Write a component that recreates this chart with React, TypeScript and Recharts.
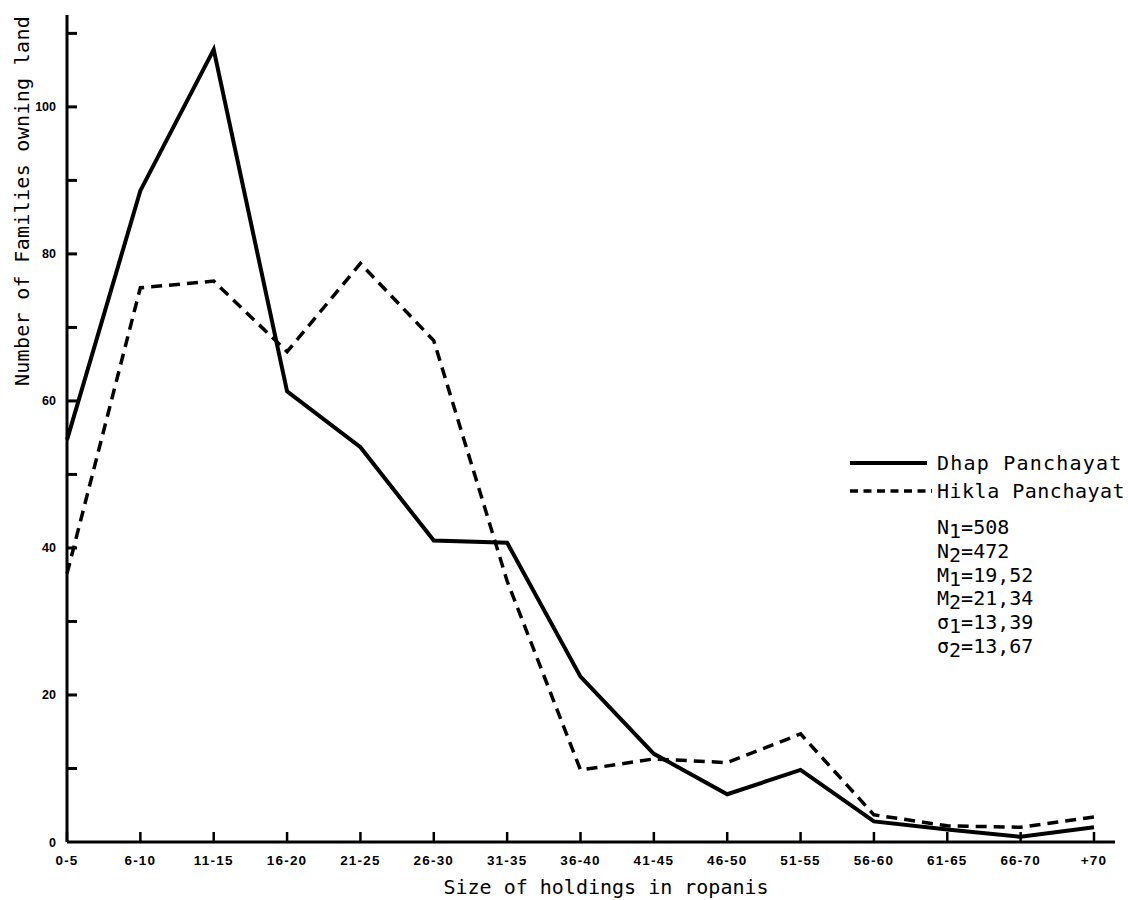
import { LineChart, Line, XAxis, YAxis } from "recharts";

// size classes of holdings (ropanis)
const categories = [
  "0-5", "6-10", "11-15", "16-20", "21-25", "26-30", "31-35", "36-40",
  "41-45", "46-50", "51-55", "56-60", "61-65", "66-70", "+70",
];

// number of families owning land
const dhap = [54.7, 88.6, 107.8, 61.3, 53.7, 41, 40.7, 22.5, 12, 6.5, 9.8, 2.8, 1.7, 0.7, 2];
const hikla = [36.5, 75.4, 76.3, 66.7, 78.7, 68.2, 35.5, 9.8, 11.3, 10.8, 14.7, 3.7, 2.2, 2, 3.4];

const yTicks = [0, 10, 20, 30, 40, 50, 60, 70, 80, 90, 100, 110];
const yLabelled = [0, 20, 40, 60, 80, 100];

const seriesNames = ["Dhap Panchayat", "Hikla Panchayat"];

const stats = [
  { sym: "N", sub: "1", val: "508" },
  { sym: "N", sub: "2", val: "472" },
  { sym: "M", sub: "1", val: "19,52" },
  { sym: "M", sub: "2", val: "21,34" },
  { sym: "σ", sub: "1", val: "13,39" },
  { sym: "σ", sub: "2", val: "13,67" },
];

const data = categories.map((c, i) => ({ size: c, dhap: dhap[i], hikla: hikla[i] }));

const MONO = "'DejaVu Sans Mono', monospace";
const TICK_FONT = "'Liberation Sans', Arial, sans-serif";

const XTick = ({ x, y, payload }: any) => (
  <g>
    <line x1={x} x2={x} y1={y} y2={y - 10} stroke="#000" strokeWidth={2.5} />
    <text
      x={x}
      y={y + 23}
      textAnchor="middle"
      fontFamily={TICK_FONT}
      fontWeight={700}
      fontSize={13.5}
      letterSpacing={1.2}
      fill="#000"
    >
      {payload.value}
    </text>
  </g>
);

const YTick = ({ x, y, payload }: any) => (
  <g>
    {payload.value !== 0 && (
      <line x1={x} x2={x + 10} y1={y} y2={y} stroke="#000" strokeWidth={3} />
    )}
    {yLabelled.includes(payload.value) && (
      <text
        x={x - 11}
        y={y + 4.5}
        textAnchor="end"
        fontFamily={TICK_FONT}
        fontWeight={700}
        fontSize={12.5}
        fill="#000"
      >
        {payload.value}
      </text>
    )}
  </g>
);

export default function App() {
  return (
    <div style={{ position: "absolute", left: 0, top: 0, width: 1128, height: 900, background: "#fff" }}>
      <LineChart
        width={1128}
        height={900}
        data={data}
        margin={{ top: 15, right: 13, bottom: 0, left: 0 }}
      >
        <XAxis
          dataKey="size"
          interval={0}
          height={58}
          padding={{ left: 0, right: 21 }}
          tickSize={0}
          tickMargin={0}
          tick={<XTick />}
          axisLine={{ stroke: "#000", strokeWidth: 3 }}
          label={() => (
            <text
              x={606}
              y={894}
              textAnchor="middle"
              fontFamily={MONO}
              fontSize={20}
              fill="#000"
            >
              Size of holdings in ropanis
            </text>
          )}
        />
        <YAxis
          width={67}
          domain={[0, 112.5]}
          ticks={yTicks}
          interval={0}
          tickSize={0}
          tickMargin={0}
          tick={<YTick />}
          axisLine={{ stroke: "#000", strokeWidth: 3 }}
          label={() => (
            <text
              x={29}
              y={201}
              transform="rotate(-90 29 201)"
              textAnchor="middle"
              fontFamily={MONO}
              fontSize={20}
              letterSpacing={0.3}
              fill="#000"
            >
              Number of Families owning land
            </text>
          )}
        />
        <Line
          type="linear"
          dataKey="dhap"
          name={seriesNames[0]}
          stroke="#000"
          strokeWidth={4}
          dot={false}
          isAnimationActive={false}
        />
        <Line
          type="linear"
          dataKey="hikla"
          name={seriesNames[1]}
          stroke="#000"
          strokeWidth={3.5}
          strokeDasharray="11 7"
          dot={false}
          isAnimationActive={false}
        />
      </LineChart>

      {/* legend and summary figures */}
      <svg
        width={1128}
        height={900}
        style={{ position: "absolute", left: 0, top: 0, pointerEvents: "none" }}
      >
        <line x1={850} x2={927} y1={463} y2={463} stroke="#000" strokeWidth={4} />
        <text x={937} y={470} fontFamily={MONO} fontSize={20} letterSpacing={1.2} fill="#000">
          {seriesNames[0]}
        </text>
        <line
          x1={850}
          x2={932}
          y1={491}
          y2={491}
          stroke="#000"
          strokeWidth={3.5}
          strokeDasharray="8 5.5"
        />
        <text x={937} y={498} fontFamily={MONO} fontSize={20} letterSpacing={0.5} fill="#000">
          {seriesNames[1]}
        </text>
        {stats.map((s, i) => (
          <text key={i} x={937} y={534 + i * 23.8} fontFamily={MONO} fontSize={20} fill="#000">
            {s.sym}
            <tspan dy={4}>{s.sub}</tspan>
            <tspan dy={-4}>={s.val}</tspan>
          </text>
        ))}
      </svg>
    </div>
  );
}
